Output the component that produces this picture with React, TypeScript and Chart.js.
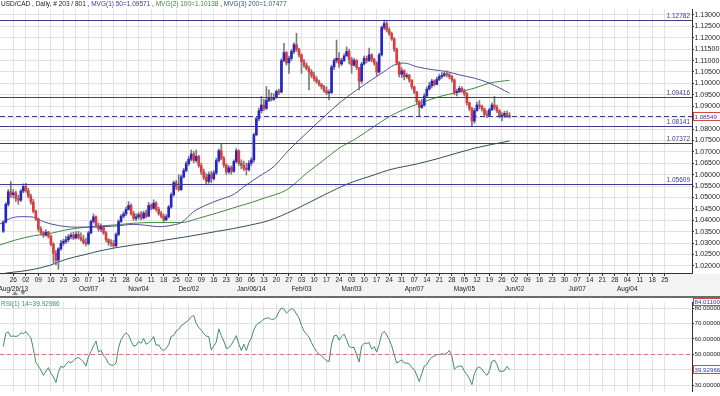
import React, { useEffect, useRef } from "react";
import { Chart, registerables } from "chart.js";

Chart.register(...registerables);

const FONT = "'Liberation Sans', Arial, sans-serif";

// ---------- data ----------
const FIRST_DAY = -4; // trading-day index of first candle (week of Aug 26 2013 Monday = 0)
const FIRST_OPEN = 1.0352;

const closes = [
  1.0392, 1.0470, 1.0525, 1.0512, 1.0520, 1.0495, 1.0488, 1.0528, 1.0548, 1.0530,
  1.0505, 1.0480, 1.0440, 1.0405, 1.0362, 1.0345, 1.0335, 1.0348, 1.0330, 1.0295,
  1.0255, 1.0225, 1.0275, 1.0300, 1.0308, 1.0315, 1.0328, 1.0335, 1.0322, 1.0338,
  1.0325, 1.0315, 1.0302, 1.0298, 1.0345, 1.0395, 1.0415, 1.0378, 1.0362, 1.0372,
  1.0345, 1.0315, 1.0302, 1.0298, 1.0288, 1.0338, 1.0395, 1.0418, 1.0428, 1.0448,
  1.0465, 1.0430, 1.0408, 1.0415, 1.0425, 1.0410, 1.0432, 1.0418, 1.0465, 1.0452,
  1.0475, 1.0448, 1.0430, 1.0418, 1.0402, 1.0415, 1.0458, 1.0512, 1.0565, 1.0548,
  1.0535, 1.0590, 1.0618, 1.0648, 1.0668, 1.0690, 1.0662, 1.0680, 1.0640, 1.0612,
  1.0588, 1.0570, 1.0600, 1.0582, 1.0608, 1.0662, 1.0705, 1.0672, 1.0642, 1.0612,
  1.0630, 1.0615, 1.0658, 1.0705, 1.0650, 1.0640, 1.0628, 1.0622, 1.0650, 1.0665,
  1.0775, 1.0845, 1.0880, 1.0905, 1.0890, 1.0925, 1.0935, 1.0930, 1.0938, 1.0965,
  1.0962, 1.1100, 1.1135, 1.1090, 1.1110, 1.1140, 1.1170, 1.1150, 1.1125, 1.1095,
  1.1080, 1.1065, 1.1050, 1.1035, 1.1020, 1.1008, 1.0995, 1.0985, 1.0968, 1.0958,
  1.0960, 1.1072, 1.1100, 1.1110, 1.1085, 1.1100, 1.1120, 1.1140, 1.1105, 1.1080,
  1.1100, 1.1070, 1.1010, 1.1085, 1.1110, 1.1100, 1.1125, 1.1105, 1.1090, 1.1050,
  1.1125, 1.1245, 1.1262, 1.1235, 1.1218, 1.1195, 1.1150, 1.1090, 1.1040, 1.1055,
  1.1030, 1.1035, 1.1015, 1.0985, 1.0962, 1.0920, 1.0895, 1.0905, 1.0945, 1.0975,
  1.0990, 1.1010, 1.0995, 1.1018, 1.1030, 1.1035, 1.1042, 1.1038, 1.1030, 1.1015,
  1.0960, 1.0965, 1.0978, 1.0968, 1.0955, 1.0915, 1.0890, 1.0835, 1.0880, 1.0905,
  1.0900, 1.0888, 1.0865, 1.0860, 1.0885, 1.0905, 1.0895, 1.0880, 1.0855, 1.0860,
  1.0868, 1.0860, 1.08549,
];

const highs = [
  1.0398, 1.0478, 1.0535, 1.0570, 1.0535, 1.0528, 1.0510, 1.0535, 1.0560, 1.0562,
  1.0540, 1.0515, 1.0492, 1.0445, 1.0410, 1.0372, 1.0352, 1.0358, 1.0352, 1.0335,
  1.0302, 1.0268, 1.0280, 1.0312, 1.0318, 1.0330, 1.0338, 1.0345, 1.0348, 1.0350,
  1.0352, 1.0345, 1.0335, 1.0322, 1.0352, 1.0402, 1.0428, 1.0420, 1.0388, 1.0385,
  1.0378, 1.0352, 1.0320, 1.0315, 1.0312, 1.0345, 1.0402, 1.0425, 1.0438, 1.0458,
  1.0482, 1.0472, 1.0440, 1.0428, 1.0435, 1.0438, 1.0440, 1.0445, 1.0478, 1.0472,
  1.0490, 1.0482, 1.0458, 1.0440, 1.0428, 1.0425, 1.0465, 1.0520, 1.0572, 1.0575,
  1.0600, 1.0598, 1.0628, 1.0658, 1.0680, 1.0708, 1.0702, 1.0708, 1.0685, 1.0650,
  1.0625, 1.0605, 1.0612, 1.0615, 1.0618, 1.0672, 1.0712, 1.0738, 1.0680, 1.0648,
  1.0640, 1.0638, 1.0665, 1.0715, 1.0708, 1.0665, 1.0660, 1.0650, 1.0662, 1.0675,
  1.0782, 1.0852, 1.0892, 1.0943, 1.0930, 1.0986, 1.0972, 1.0958, 1.0955, 1.0972,
  1.0975, 1.1108, 1.1176, 1.1140, 1.1120, 1.1148, 1.1178, 1.1220, 1.1155, 1.1130,
  1.1105, 1.1090, 1.1075, 1.1060, 1.1050, 1.1030, 1.1015, 1.1000, 1.0992, 1.0985,
  1.0972, 1.1080, 1.1108, 1.1190, 1.1135, 1.1110, 1.1130, 1.1160, 1.1150, 1.1115,
  1.1110, 1.1105, 1.1060, 1.1092, 1.1120, 1.1120, 1.1155, 1.1130, 1.1110, 1.1095,
  1.1132, 1.1252, 1.1278, 1.1272, 1.1245, 1.1225, 1.1200, 1.1155, 1.1095, 1.1068,
  1.1060, 1.1045, 1.1040, 1.1015, 1.0988, 1.0965, 1.0925, 1.0930, 1.0955, 1.0985,
  1.1005, 1.1018, 1.1015, 1.1028, 1.1040, 1.1048, 1.1050, 1.1055, 1.1045, 1.1035,
  1.1020, 1.0975, 1.0988, 1.0985, 1.0975, 1.0960, 1.0918, 1.0895, 1.0890, 1.0918,
  1.0925, 1.0905, 1.0892, 1.0880, 1.0892, 1.0915, 1.0943, 1.0905, 1.0885, 1.0872,
  1.0878, 1.0880, 1.0872,
];

const lows = [
  1.0346, 1.0388, 1.0462, 1.0500, 1.0498, 1.0482, 1.0470, 1.0482, 1.0520, 1.0522,
  1.0498, 1.0470, 1.0432, 1.0398, 1.0352, 1.0335, 1.0325, 1.0330, 1.0322, 1.0288,
  1.0212, 1.0205, 1.0185, 1.0268, 1.0290, 1.0298, 1.0305, 1.0318, 1.0315, 1.0318,
  1.0318, 1.0308, 1.0295, 1.0288, 1.0292, 1.0340, 1.0388, 1.0368, 1.0352, 1.0350,
  1.0338, 1.0305, 1.0290, 1.0285, 1.0280, 1.0285, 1.0332, 1.0390, 1.0410, 1.0420,
  1.0445, 1.0422, 1.0400, 1.0398, 1.0405, 1.0402, 1.0405, 1.0410, 1.0415, 1.0445,
  1.0448, 1.0440, 1.0422, 1.0410, 1.0392, 1.0398, 1.0410, 1.0452, 1.0505, 1.0535,
  1.0528, 1.0530, 1.0585, 1.0612, 1.0640, 1.0660, 1.0652, 1.0655, 1.0632, 1.0600,
  1.0578, 1.0558, 1.0562, 1.0565, 1.0575, 1.0600, 1.0655, 1.0665, 1.0632, 1.0600,
  1.0605, 1.0602, 1.0610, 1.0650, 1.0640, 1.0625, 1.0618, 1.0598, 1.0615, 1.0640,
  1.0655, 1.0770, 1.0835, 1.0870, 1.0880, 1.0885, 1.0920, 1.0922, 1.0925, 1.0935,
  1.0950, 1.0958, 1.1095, 1.1080, 1.1044, 1.1100, 1.1130, 1.1140, 1.1115, 1.1044,
  1.1070, 1.1058, 1.0971, 1.1025, 1.1010, 1.1000, 1.0988, 1.0975, 1.0960, 1.0950,
  1.0928, 1.0955, 1.1060, 1.1090, 1.1070, 1.1078, 1.1095, 1.1120, 1.1085, 1.1044,
  1.1075, 1.1060, 1.0971, 1.1000, 1.1080, 1.1090, 1.1095, 1.1095, 1.1080, 1.1030,
  1.1045, 1.1120, 1.1235, 1.1225, 1.1210, 1.1188, 1.1140, 1.1080, 1.1028, 1.1025,
  1.1015, 1.1022, 1.1005, 1.0975, 1.0955, 1.0910, 1.0855, 1.0890, 1.0900, 1.0940,
  1.0970, 1.0980, 1.0988, 1.0995, 1.1012, 1.1022, 1.1030, 1.1028, 1.1020, 1.1005,
  1.0950, 1.0945, 1.0958, 1.0960, 1.0945, 1.0905, 1.0880, 1.0811, 1.0825, 1.0878,
  1.0888, 1.0878, 1.0858, 1.0850, 1.0855, 1.0880, 1.0885, 1.0872, 1.0848, 1.0835,
  1.0850, 1.0852, 1.0848,
];

const ma50Days = [-5.3, -1, 3, 8, 12, 18, 25, 31, 36, 41, 48, 53, 58, 64, 67, 72, 77, 82, 88, 93, 98, 104, 110, 117, 124, 130, 137, 144, 148, 152, 156, 161, 168, 173, 178, 184, 190, 198];
const ma50Vals = [1.0384, 1.0409, 1.0416, 1.0414, 1.0394, 1.0377, 1.0370, 1.0370, 1.0372, 1.0375, 1.0382, 1.0378, 1.0372, 1.0380, 1.0390, 1.0438, 1.0467, 1.0489, 1.0514, 1.0555, 1.0592, 1.0636, 1.0708, 1.0782, 1.0854, 1.0913, 1.0971, 1.1023, 1.1052, 1.1081, 1.1089, 1.1073, 1.1059, 1.1052, 1.1037, 1.1023, 1.1001, 1.09571];

const ma100Days = [-5.3, 1, 8, 15, 21, 31, 41, 48, 55, 61, 67, 74, 81, 88, 95, 102, 107, 110, 117, 124, 130, 137, 144, 150, 157, 164, 170, 177, 184, 190, 198];
const ma100Vals = [1.0292, 1.0314, 1.0332, 1.0343, 1.0358, 1.0372, 1.0380, 1.0387, 1.0390, 1.0390, 1.0390, 1.0409, 1.0431, 1.0455, 1.0478, 1.0504, 1.0522, 1.0540, 1.0606, 1.0665, 1.0716, 1.0760, 1.0811, 1.0854, 1.0891, 1.0920, 1.0942, 1.0960, 1.0979, 1.1001, 1.10138];

const ma200Days = [-5.3, -2.6, 3, 8, 15, 21, 28, 35, 41, 48, 55, 61, 68, 75, 81, 88, 95, 102, 112, 124, 134, 144, 150, 161, 170, 184, 198];
const ma200Vals = [1.0162, 1.0169, 1.0176, 1.0185, 1.0204, 1.0229, 1.0248, 1.0267, 1.0280, 1.0292, 1.0302, 1.0314, 1.0326, 1.0339, 1.0351, 1.0364, 1.0380, 1.0399, 1.0445, 1.0511, 1.0562, 1.0599, 1.0621, 1.0647, 1.0672, 1.0716, 1.07477];

const rsiValues = [
  55.0, 63.5, 64.5, 61.5, 61.9, 61.5, 62.1, 63.9, 63.5, 64.7,
  62.5, 60.9, 53.4, 44.7, 42.3, 39.7, 36.3, 38.9, 41.3, 37.6,
  35.2, 31.6, 38.3, 42.3, 41.3, 43.5, 45.3, 44.5, 45.7, 47.4,
  47.8, 46.6, 45.0, 42.3, 48.4, 51.8, 55.4, 58.5, 51.4, 52.6,
  49.0, 47.4, 43.9, 42.9, 42.9, 44.3, 54.4, 59.5, 62.1, 63.9,
  62.5, 58.5, 55.2, 55.8, 58.3, 57.1, 60.3, 56.5, 57.5, 59.1,
  61.5, 55.8, 56.2, 53.4, 52.4, 53.8, 56.2, 61.7, 62.1, 65.1,
  66.1, 68.6, 69.6, 71.0, 72.2, 74.4, 75.2, 70.0, 67.4, 65.7,
  63.5, 61.7, 61.5, 52.8, 55.4, 57.9, 66.5, 62.1, 58.5, 53.8,
  54.2, 56.2, 59.1, 62.1, 56.5, 52.4, 56.5, 52.4, 57.5, 60.5,
  65.9, 69.0, 70.4, 71.4, 72.8, 73.4, 73.6, 72.6, 72.8, 74.2,
  77.7, 80.1, 79.3, 76.7, 78.3, 79.7, 78.7, 76.2, 73.6, 68.6,
  65.1, 63.1, 61.1, 57.5, 54.4, 51.8, 50.2, 49.0, 47.4, 45.7,
  45.3, 56.5, 61.9, 62.5, 59.1, 61.5, 63.1, 59.5, 55.0, 54.4,
  54.4, 49.4, 45.0, 55.4, 57.1, 57.1, 57.5, 53.4, 55.0, 51.4,
  56.5, 63.1, 64.9, 62.5, 59.5, 55.4, 49.8, 44.3, 45.3, 46.3,
  44.3, 44.3, 43.7, 41.3, 40.1, 36.3, 32.2, 37.3, 42.3, 43.3,
  46.2, 48.0, 48.8, 49.8, 49.8, 50.2, 50.0, 50.6, 52.4, 49.0,
  40.3, 41.7, 42.3, 42.3, 38.9, 36.9, 34.2, 30.2, 37.3, 40.9,
  41.7, 40.3, 37.9, 36.3, 39.3, 45.3, 46.2, 43.3, 38.9, 38.9,
  39.3, 42.1, 39.92966,
];

const weekDays = ["26", "02", "09", "16", "23", "30", "07", "14", "21", "28", "04", "11", "18", "25", "02", "09", "16", "23", "30", "06", "13", "20", "27", "03", "10", "17", "24", "03", "10", "17", "24", "31", "07", "14", "21", "28", "05", "12", "19", "26", "02", "09", "16", "23", "30", "07", "14", "21", "28", "04", "11", "18", "25"];
const monthWeeks = [0, 6, 10, 14, 19, 23, 27, 32, 36, 40, 45, 49];
const monthNames = ["Aug/26/13", "Oct/07", "Nov/04", "Dec/02", "Jan/06/14", "Feb/03", "Mar/03", "Apr/07", "May/05", "Jun/02", "Jul/07", "Aug/04"];

const priceTicks = [1.02, 1.025, 1.03, 1.035, 1.04, 1.045, 1.05, 1.055, 1.06, 1.065, 1.07, 1.075, 1.08, 1.085, 1.09, 1.095, 1.1, 1.105, 1.11, 1.115, 1.12, 1.125, 1.13];
const rsiTicks = [30, 40, 50, 60, 70, 80];
const levelLines = [1.12782, 1.09416, 1.08141, 1.07372, 1.05609];
const lastPrice = 1.08549;
const rsiMid = 50;
const rsiTopLabel = "84.01100";

const headerParts = [
  { text: "USD/CAD , Daily, # 203 / 801 , ", color: "#1a1a1a" },
  { text: "MVG(1) 50=1.09571", color: "#3a3a96" },
  { text: " , ", color: "#1a1a1a" },
  { text: "MVG(2) 100=1.10138", color: "#3a8a3a" },
  { text: " , ", color: "#1a1a1a" },
  { text: "MVG(3) 200=1.07477", color: "#3a5568" },
];

// ---------- styles ----------
const X_MIN = -5.31;
const X_MAX = 270.83;
const GRID = "#e2e2e2";
const AXIS = "#333333";
const LEVEL = "#3c3c8c";
const UP = "#2424c8";
const DOWN = "#e23a3a";
const WICK = "#7a7a7a";

function weekTicks(scale: any) {
  scale.ticks = weekDays.map((_, w) => ({ value: w * 5 }));
}

function drawBox(ctx: CanvasRenderingContext2D, x: number, yc: number, w: number, h: number, text: string) {
  const top = Math.round(yc - h / 2);
  ctx.fillStyle = "#ffffff";
  ctx.fillRect(x, top, w, h);
  ctx.strokeStyle = "#d04848";
  ctx.lineWidth = 1;
  ctx.strokeRect(x + 0.5, top + 0.5, w - 1, h - 1);
  ctx.fillStyle = "#3434a8";
  ctx.font = `6.2px ${FONT}`;
  ctx.textAlign = "left";
  ctx.textBaseline = "middle";
  ctx.fillText(text, x + 1.5, top + h / 2 + 0.5);
}

function mainConfig(): any {
  const days = closes.map((_, i) => i + FIRST_DAY);
  const opens = closes.map((_, i) => (i === 0 ? FIRST_OPEN : closes[i - 1]));
  const bodies = days.map((d, i) => ({ x: d, y: [opens[i], closes[i]] }));
  const bodyColors = days.map((_, i) => (closes[i] >= opens[i] ? UP : DOWN));
  const wicks = days.map((d, i) => ({ x: d, y: [lows[i], highs[i]] }));

  const decor = {
    id: "mainDecor",
    beforeDraw(chart: any) {
      const { ctx, width, height, chartArea } = chart;
      ctx.save();
      ctx.fillStyle = "#ffffff";
      ctx.fillRect(0, 0, width, height);
      ctx.fillStyle = "#f3f3f3";
      ctx.fillRect(0, chartArea.bottom + 1, width, height - chartArea.bottom - 1);
      ctx.restore();
    },
    afterDatasetsDraw(chart: any) {
      const { ctx, chartArea, scales } = chart;
      const y = scales.y;
      ctx.save();
      ctx.beginPath();
      ctx.rect(chartArea.left, chartArea.top, chartArea.right - chartArea.left, chartArea.bottom - chartArea.top);
      ctx.clip();
      ctx.strokeStyle = LEVEL;
      ctx.lineWidth = 1.2;
      ctx.font = `6.5px ${FONT}`;
      ctx.fillStyle = LEVEL;
      ctx.textAlign = "right";
      ctx.textBaseline = "bottom";
      levelLines.forEach((v) => {
        const py = Math.round(y.getPixelForValue(v)) + 0.5;
        ctx.beginPath();
        ctx.moveTo(chartArea.left, py);
        ctx.lineTo(chartArea.right, py);
        ctx.stroke();
        ctx.fillText(v.toFixed(5), chartArea.right - 2, py - 1);
      });
      const pl = Math.round(y.getPixelForValue(lastPrice)) + 0.5;
      ctx.setLineDash([5, 3]);
      ctx.beginPath();
      ctx.moveTo(chartArea.left, pl);
      ctx.lineTo(chartArea.right, pl);
      ctx.stroke();
      ctx.restore();
    },
    afterDraw(chart: any) {
      const { ctx, width, height, chartArea, scales } = chart;
      ctx.save();
      ctx.font = `6.5px ${FONT}`;
      ctx.textAlign = "left";
      ctx.textBaseline = "middle";
      let x = 1;
      headerParts.forEach((p) => {
        ctx.fillStyle = p.color;
        ctx.fillText(p.text, x, 4.5);
        x += ctx.measureText(p.text).width;
      });
      drawBox(ctx, chartArea.right + 1, scales.y.getPixelForValue(lastPrice), 28, 9, lastPrice.toFixed(5));
      ctx.fillStyle = "#6a6a6a";
      ctx.fillRect(0, height - 2, width, 2);
      ctx.fillStyle = "#8a8aa0";
      ctx.beginPath();
      ctx.moveTo(12, height - 3);
      ctx.lineTo(15, height - 7);
      ctx.lineTo(18, height - 3);
      ctx.fill();
      ctx.beginPath();
      ctx.moveTo(20, height - 7);
      ctx.lineTo(23, height - 3);
      ctx.lineTo(26, height - 7);
      ctx.fill();
      ctx.restore();
    },
  };

  return {
    type: "bar",
    data: {
      datasets: [
        {
          type: "bar",
          data: bodies,
          backgroundColor: bodyColors,
          borderWidth: 0,
          barThickness: 2,
          minBarLength: 1,
          grouped: false,
        },
        {
          type: "bar",
          data: wicks,
          backgroundColor: WICK,
          borderWidth: 0,
          barThickness: 1,
          grouped: false,
        },
        {
          type: "line",
          data: ma50Days.map((d, i) => ({ x: d, y: ma50Vals[i] })),
          borderColor: "#50509e",
          borderWidth: 1,
          pointRadius: 0,
          cubicInterpolationMode: "monotone",
        },
        {
          type: "line",
          data: ma100Days.map((d, i) => ({ x: d, y: ma100Vals[i] })),
          borderColor: "#3f8a3f",
          borderWidth: 1,
          pointRadius: 0,
          cubicInterpolationMode: "monotone",
        },
        {
          type: "line",
          data: ma200Days.map((d, i) => ({ x: d, y: ma200Vals[i] })),
          borderColor: "#34505e",
          borderWidth: 1,
          pointRadius: 0,
          cubicInterpolationMode: "monotone",
        },
      ],
    },
    options: {
      responsive: false,
      maintainAspectRatio: false,
      animation: false,
      devicePixelRatio: 1,
      events: [],
      layout: { autoPadding: false, padding: { top: 9, left: 0, right: 0, bottom: 0 } },
      plugins: { legend: { display: false }, tooltip: { enabled: false } },
      scales: {
        x: {
          type: "linear",
          min: X_MIN,
          max: X_MAX,
          offset: false,
          afterBuildTicks: weekTicks,
          afterFit: (s: any) => {
            s.height = 25;
            s.paddingLeft = 0;
            s.paddingRight = 0;
          },
          grid: { color: GRID, offset: false, drawTicks: true, tickLength: 3, tickColor: AXIS },
          border: { color: AXIS, width: 1 },
          ticks: {
            autoSkip: false,
            maxRotation: 0,
            padding: 0,
            color: "#222",
            font: { family: FONT, size: 6.5, lineHeight: 1.4 },
            callback: (value: any) => {
              const w = Math.round(Number(value) / 5);
              const mi = monthWeeks.indexOf(w);
              return mi >= 0 ? [weekDays[w], monthNames[mi]] : weekDays[w];
            },
          },
        },
        y: {
          type: "linear",
          position: "right",
          min: 1.0169,
          max: 1.1326,
          afterBuildTicks: (s: any) => {
            s.ticks = priceTicks.map((v) => ({ value: v }));
          },
          afterFit: (s: any) => {
            s.width = 28;
          },
          grid: { color: GRID, drawTicks: true, tickLength: 2, tickColor: AXIS },
          border: { color: AXIS, width: 1 },
          ticks: {
            padding: 0.5,
            color: "#222",
            font: { family: FONT, size: 7 },
            callback: (v: any) => Number(v).toFixed(5),
          },
        },
      },
    },
    plugins: [decor],
  };
}

function rsiConfig(): any {
  const days = rsiValues.map((_, i) => i + FIRST_DAY);
  const last = rsiValues[rsiValues.length - 1];
  const decor = {
    id: "rsiDecor",
    beforeDraw(chart: any) {
      const { ctx, width, height } = chart;
      ctx.save();
      ctx.fillStyle = "#ffffff";
      ctx.fillRect(0, 0, width, height);
      ctx.restore();
    },
    afterDatasetsDraw(chart: any) {
      const { ctx, chartArea, scales } = chart;
      const py = Math.round(scales.y.getPixelForValue(rsiMid)) + 0.5;
      ctx.save();
      ctx.strokeStyle = "#e07070";
      ctx.lineWidth = 1.2;
      ctx.setLineDash([4, 3]);
      ctx.beginPath();
      ctx.moveTo(chartArea.left, py);
      ctx.lineTo(chartArea.right, py);
      ctx.stroke();
      ctx.restore();
    },
    afterDraw(chart: any) {
      const { ctx, chartArea, scales } = chart;
      ctx.save();
      ctx.font = `6.5px ${FONT}`;
      ctx.fillStyle = "#3f8f66";
      ctx.textAlign = "left";
      ctx.textBaseline = "middle";
      ctx.fillText("RSI(1) 14=" + last.toFixed(5), 1, 6);
      drawBox(ctx, chartArea.right + 1, 3.5, 28, 8, rsiTopLabel);
      drawBox(ctx, chartArea.right + 1, scales.y.getPixelForValue(last), 28, 9, last.toFixed(5));
      ctx.restore();
    },
  };
  return {
    type: "line",
    data: {
      datasets: [
        {
          data: days.map((d, i) => ({ x: d, y: rsiValues[i] })),
          borderColor: "#3f8f66",
          borderWidth: 1,
          pointRadius: 0,
          tension: 0,
        },
      ],
    },
    options: {
      responsive: false,
      maintainAspectRatio: false,
      animation: false,
      devicePixelRatio: 1,
      events: [],
      layout: { autoPadding: false, padding: { top: 2, left: 0, right: 0, bottom: 0 } },
      plugins: { legend: { display: false }, tooltip: { enabled: false } },
      scales: {
        x: {
          type: "linear",
          min: X_MIN,
          max: X_MAX,
          afterBuildTicks: weekTicks,
          afterFit: (s: any) => {
            s.height = 0;
            s.paddingLeft = 0;
            s.paddingRight = 0;
          },
          grid: { color: GRID, drawTicks: false },
          border: { display: false },
          ticks: { display: false },
        },
        y: {
          type: "linear",
          position: "right",
          min: 25.6,
          max: 83.8,
          afterBuildTicks: (s: any) => {
            s.ticks = rsiTicks.map((v) => ({ value: v }));
          },
          afterFit: (s: any) => {
            s.width = 28;
          },
          grid: { color: GRID, drawTicks: true, tickLength: 2, tickColor: AXIS },
          border: { color: AXIS, width: 1 },
          ticks: {
            padding: 0.5,
            color: "#222",
            font: { family: FONT, size: 6.2 },
            callback: (v: any) => Number(v).toFixed(5),
          },
        },
      },
    },
    plugins: [decor],
  };
}

export default function App() {
  const mainRef = useRef<HTMLCanvasElement>(null);
  const rsiRef = useRef<HTMLCanvasElement>(null);
  useEffect(() => {
    const c1 = new Chart(mainRef.current as HTMLCanvasElement, mainConfig());
    const c2 = new Chart(rsiRef.current as HTMLCanvasElement, rsiConfig());
    return () => {
      c1.destroy();
      c2.destroy();
    };
  }, []);
  return (
    <div style={{ position: "fixed", left: 0, top: 0, width: 720, height: 396, background: "#fff", overflow: "hidden" }}>
      <canvas ref={mainRef} width={720} height={298} style={{ position: "absolute", left: 0, top: 0, width: 720, height: 298 }} />
      <canvas ref={rsiRef} width={720} height={98} style={{ position: "absolute", left: 0, top: 298, width: 720, height: 98 }} />
    </div>
  );
}
